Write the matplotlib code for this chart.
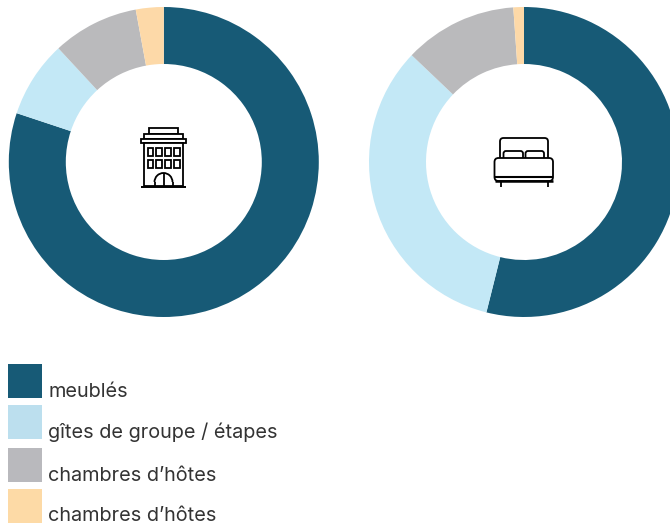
#!/usr/bin/env python

import matplotlib
matplotlib.use("Agg")
import matplotlib.pyplot as plt
from matplotlib.patches import Rectangle, FancyBboxPatch, Arc

labels = ["meublés", "gîtes de groupe / étapes", "chambres d’hôtes", "chambres d’hôtes"]
hotels = [80.1, 8.0, 9.0, 2.9]
beds = [53.9, 33.2, 11.8, 1.1]
colors = ["#175a76", "#c3e8f6", "#bababc", "#fdd9a8"]
legend_colors = ["#175a76", "#bcdfee", "#b9b9bd", "#fddaa6"]

W, H = 670, 523
plt.rcParams["font.family"] = ["Inter", "DejaVu Sans"]
fig = plt.figure(figsize=(W / 100, H / 100), dpi=100)


def donut(cx, cy, values):
    r = 155
    ax = fig.add_axes([(cx - r) / W, 1 - (cy + r) / H, 2 * r / W, 2 * r / H])
    ax.pie(values, colors=colors, startangle=90, counterclock=False, radius=1,
           wedgeprops=dict(width=57 / r, linewidth=0))
    ax.set_xlim(-1, 1)
    ax.set_ylim(-1, 1)


donut(163.8, 162, hotels)
donut(524, 162, beds)

# overlay in pixel coordinates for icons and legend
ov = fig.add_axes([0, 0, 1, 1])
ov.set_xlim(0, W)
ov.set_ylim(H, 0)
ov.axis("off")
ov.patch.set_alpha(0)

lw = 1.3


def box(x0, y0, x1, y1):
    ov.add_patch(Rectangle((x0, y0), x1 - x0, y1 - y0, fc="white", ec="black", lw=lw))


def rbox(x0, y0, x1, y1, r):
    ov.add_patch(FancyBboxPatch((x0 + r, y0 + r), x1 - x0 - 2 * r, y1 - y0 - 2 * r,
                                boxstyle="round,pad=%f,rounding_size=%f" % (r, r),
                                fc="white", ec="black", lw=lw))


def seg(x0, y0, x1, y1, w=lw):
    ov.plot([x0, x1], [y0, y1], color="black", lw=w, solid_capstyle="butt")


# building
box(149, 128, 178, 134)
box(144, 134, 183, 139)
box(141, 139, 186, 143)
box(144, 143, 183, 186)
seg(141, 186.5, 186, 186.5, 1.4)
for wx in [147.5, 156, 165, 174]:
    for wy in [148, 160]:
        box(wx, wy, wx + 5.5, wy + 8)
ov.add_patch(Arc((163.5, 182), 18, 18, theta1=180, theta2=360, ec="black", lw=lw))
seg(154.5, 182, 154.5, 186)
seg(172.5, 182, 172.5, 186)
seg(163.5, 173, 163.5, 186)

# bed
rbox(500, 138, 548, 165, 3.5)
rbox(503.5, 151, 523, 162, 2.5)
rbox(525.5, 151, 544, 162, 2.5)
rbox(494.5, 158, 553, 181, 4)
seg(494.5, 177, 553, 177, 1.5)
seg(494.5, 181, 553, 181, 1.8)
seg(500.5, 181, 500.5, 187)
seg(547.5, 181, 547.5, 187)

# legend
swatch_y = [364, 405, 448, 489]
text_y = [397, 438, 481, 521.4]
for lab, c, sy, ty in zip(labels, legend_colors, swatch_y, text_y):
    ov.add_patch(Rectangle((8, sy), 34, 34, fc=c, ec="none"))
    ov.text(48.5, ty, lab, fontsize=14.3, color="#333333", ha="left", va="baseline")

fig.savefig("out.png", dpi=100)
